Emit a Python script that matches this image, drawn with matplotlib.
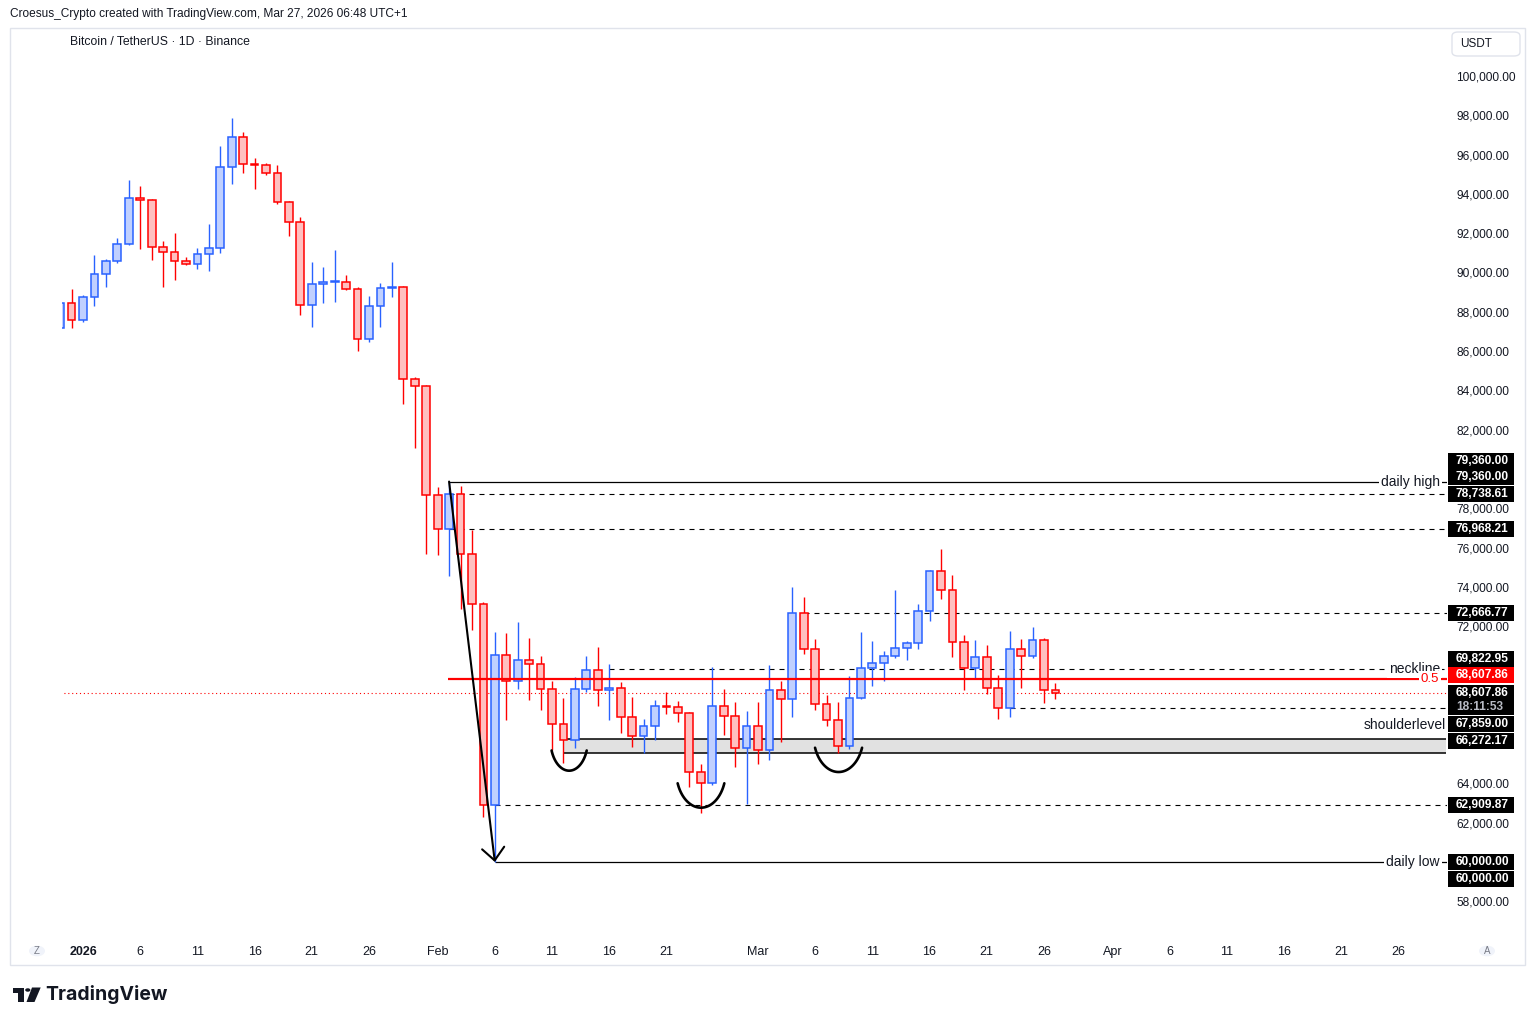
import numpy as np
import pandas as pd
import matplotlib
matplotlib.use("Agg")
import matplotlib.pyplot as plt
from matplotlib.patches import Rectangle, FancyBboxPatch, Circle, Polygon
from matplotlib.transforms import blended_transform_factory

plt.rcParams['font.family'] = ['Liberation Sans', 'DejaVu Sans']

# daily BTC/USDT candles, first one on Dec 30 2025
first_day = "2025-12-30"
opens = [87160, 88430, 87570, 88740, 89910, 90570, 91440, 93780, 93670, 91280,
         91030, 90570, 90420, 90930, 91230, 95350, 96880, 95510, 95460, 95050,
         93570, 92560, 88330, 89400, 89500, 89530, 89150, 86600, 88280, 89200,
         89250, 84570, 84210, 78660, 76968.21, 78738.61, 75690, 73120, 62909.87, 70520,
         69200, 70270, 70060, 68790, 67010, 66190, 68790, 69760, 68740, 68840,
         67400, 66400, 66910, 67920, 67880, 67570, 64580, 64000, 67920, 67420,
         65790, 66910, 65690, 68740, 68280, 72666.77, 70830, 68030, 67210, 65890,
         68330, 69860, 70110, 70470, 70880, 71130, 72760, 74790, 73830, 71180,
         69860, 70420, 68840, 67859, 70830, 70470, 71280, 68740]
highs = [88500, 89160, 88860, 90890, 90670, 91760, 94710, 94400, 93720, 91590,
         92010, 90790, 91250, 92470, 96440, 97860, 97150, 95830, 95570, 95470,
         93620, 92830, 90530, 90280, 91150, 89870, 89260, 88800, 89470, 90530,
         89300, 84680, 84250, 79100, 79360, 79140, 76880, 73250, 71690, 71640,
         72200, 71400, 70470, 69200, 68360, 69400, 70470, 70930, 70060, 69150,
         68380, 67260, 68250, 68650, 68190, 67620, 64990, 69920, 68800, 68140,
         67690, 68140, 70010, 69210, 74000, 73490, 71330, 68500, 68140, 69450,
         71700, 71250, 70740, 73840, 71250, 73130, 74860, 75910, 74610, 71540,
         71300, 71030, 69500, 71760, 71350, 71960, 71380, 69090]
lows = [87100, 87190, 87500, 88310, 89280, 90500, 91400, 91210, 90650, 89280,
        89630, 90370, 90190, 90090, 91010, 94520, 95080, 94270, 94980, 93500,
        91870, 87850, 87240, 88460, 88510, 89100, 86020, 86480, 87240, 88770,
        83320, 81080, 75690, 75640, 74570, 72880, 71820, 62310, 60000, 67240,
        68820, 68260, 67750, 65720, 65050, 65820, 68670, 67960, 67240, 66580,
        65840, 65560, 66220, 67520, 67140, 63830, 62480, 63900, 66480, 64850,
        62970, 65000, 65210, 66120, 67360, 70600, 67720, 66910, 65560, 65770,
        68300, 68940, 69200, 70370, 70280, 70830, 72250, 73370, 70450, 68770,
        69300, 68540, 67290, 67400, 68870, 70370, 68110, 68280]
closes = [88430, 87570, 88740, 89910, 90570, 91440, 93780, 93670, 91280, 91030,
          90570, 90420, 90930, 91230, 95350, 96880, 95510, 95460, 95050, 93570,
          92560, 88330, 89400, 89500, 89530, 89150, 86600, 88280, 89200, 89250,
          84570, 84210, 78660, 76968.21, 78738.61, 75690, 73120, 62909.87, 70520, 69200,
          70270, 70060, 68790, 67010, 66190, 68790, 69760, 68740, 68840, 67400,
          66400, 66910, 67920, 67880, 67570, 64580, 64000, 67920, 67420, 65790,
          66910, 65690, 68740, 68280, 72666.77, 70830, 68030, 67210, 65890, 68330,
          69860, 70110, 70470, 70880, 71130, 72760, 74790, 73830, 71180, 69860,
          70420, 68840, 67859, 70830, 70470, 71280, 68740, 68607.86]

# drawn levels
daily_high = 79360
daily_low = 60000
dashed_levels = [78738.61, 76968.21, 72666.77, 62909.87]
dashed_from = ["2026-02-02", "2026-02-02", "2026-03-05", "2026-02-06"]
neckline = 69822.95
neck_from = "2026-02-16"
fib_half = 69310
last_price = 68607.86
recent_low = 67859
shoulder_top, shoulder_bottom = 66272.17, 65550
shoulder_from = "2026-02-12"

# rounded bottoms (left day, right day, top price, bottom price)
arc_x0 = [40.96, 51.98, 63.99]
arc_x1 = [44.03, 56.06, 68.10]
arc_top = [65675, 64006, 65816]
arc_bottom = [64647, 62765, 64580]

tick_dates = ["2026-01-01", "2026-01-06", "2026-01-11", "2026-01-16", "2026-01-21", "2026-01-26",
              "2026-02-01", "2026-02-06", "2026-02-11", "2026-02-16", "2026-02-21",
              "2026-03-01", "2026-03-06", "2026-03-11", "2026-03-16", "2026-03-21", "2026-03-26",
              "2026-04-01", "2026-04-06", "2026-04-11", "2026-04-16", "2026-04-21", "2026-04-26"]
tick_labels = ["2026", "6", "11", "16", "21", "26", "Feb", "6", "11", "16", "21",
               "Mar", "6", "11", "16", "21", "26", "Apr", "6", "11", "16", "21", "26"]
# price ticks that sit under a price tag in the screenshot
hidden_ticks = [80000, 70000, 68000, 66000, 60000]

BLUE, BLUE_FILL = "#2962ff", "#c0d0ff"
RED, RED_FILL = "#ff0000", "#ffc0c0"
TXT = "#131722"

W, H = 1535, 1025
fig = plt.figure(figsize=(W / 100, H / 100), dpi=100)
fig.patch.set_facecolor("white")


def fx(px):
    return px / W


def fy(py):
    return 1 - py / H


T0 = pd.Timestamp("2026-01-01")


def day(s):
    return (pd.Timestamp(s) - T0).days


AX_L, AX_R = 62, 1447
ax = fig.add_axes([fx(AX_L), fy(938), fx(AX_R) - fx(AX_L), fy(28) - fy(938)])
ax.set_xlim((AX_L - 83) / 11.44, (AX_R - 83) / 11.44)
ax.set_ylim(100000 - (938 - 76) / 19.65 * 1000, 100000 + (76 - 28) / 19.65 * 1000)
right = ax.get_xlim()[1]
for s in ax.spines.values():
    s.set_visible(False)

# candles
x = (pd.date_range(first_day, periods=len(opens)) - T0).days.values
o, h, l, c = map(np.array, (opens, highs, lows, closes))
up = c >= o
edge = np.where(up, BLUE, RED)
fill = np.where(up, BLUE_FILL, RED_FILL)
ax.vlines(x, l, h, colors=edge, lw=1.0, zorder=2)
ax.bar(x, np.maximum(np.abs(c - o), 60), bottom=np.minimum(o, c), width=0.68,
       color=fill, edgecolor=edge, linewidth=1.1, zorder=3)

# levels
dash = (0, (4.5, 4.5))
ax.hlines(daily_high, day("2026-02-02"), right, color="black", lw=0.9, zorder=1)
ax.hlines(daily_low, day("2026-02-06"), right, color="black", lw=0.9, zorder=1)
for lvl, start in zip(dashed_levels, dashed_from):
    ax.hlines(lvl, day(start), right, color="black", lw=0.8, linestyles=[dash], zorder=1)
ax.hlines(neckline, day(neck_from), right, color="black", lw=0.8, linestyles=[dash], zorder=1)
ax.hlines(recent_low, day("2026-03-23"), right, color="black", lw=0.8, linestyles=[dash], zorder=1)
ax.hlines(fib_half, day("2026-02-02") - 0.1, right, color=RED, lw=1.6, zorder=4)
ax.hlines(last_price, x[0], right, color=RED, lw=0.8, linestyles=[(0, (1, 2.5))], zorder=1)

sx = day(shoulder_from)
ax.add_patch(Rectangle((sx, shoulder_bottom), right - sx - 0.1, shoulder_top - shoulder_bottom,
                       facecolor="#e1e1e1", edgecolor="none", zorder=0.5))
ax.hlines([shoulder_top, shoulder_bottom], sx, right - 0.1, color="black", lw=1.1, zorder=1)

# arrow from the high to the low
ax.annotate("", xy=(day("2026-02-06"), daily_low), xytext=(day("2026-02-02"), daily_high),
            arrowprops=dict(arrowstyle="->,head_length=0.9,head_width=0.8", color="black",
                            lw=1.5, shrinkA=0, shrinkB=0), zorder=6)

# rounded bottoms
span = np.radians(20)
for x0, x1, yt, yb in zip(arc_x0, arc_x1, arc_top, arc_bottom):
    a = (x1 - x0) / 2 / np.cos(span)
    b = (yt - yb) / (1 - np.sin(span))
    t = np.linspace(np.pi + span, 2 * np.pi - span, 60)
    ax.plot((x0 + x1) / 2 + a * np.cos(t), yb + b + b * np.sin(t), color="black",
            lw=1.9, solid_capstyle="round", zorder=6)

# line labels
tr = blended_transform_factory(ax.transAxes, ax.transData)


def ax_x(px):
    return (px - AX_L) / (AX_R - AX_L)


box = dict(facecolor="white", edgecolor="none", pad=1.5)
ax.text(ax_x(1440), daily_high, "daily high", transform=tr, ha="right", va="center",
        fontsize=10, color=TXT, bbox=box, zorder=7)
ax.text(ax_x(1440), daily_low, "daily low", transform=tr, ha="right", va="center",
        fontsize=10, color=TXT, bbox=box, zorder=7)
ax.text(ax_x(1440), neckline, "neckline", transform=tr, ha="right", va="center",
        fontsize=10, color=TXT, bbox=box, zorder=7)
ax.text(ax_x(1439), fib_half, "0.5", transform=tr, ha="right", va="center",
        fontsize=9.5, color=RED, bbox=box, zorder=7)
ax.text(ax_x(1446), shoulder_top + 320, "shoulderlevel", transform=tr, ha="right",
        va="bottom", fontsize=10, color=TXT, zorder=7)

# axes ticks
yt = np.arange(58000, 100001, 2000)
ax.yaxis.tick_right()
ax.set_yticks(yt)
ax.set_yticklabels(["" if v in hidden_ticks else f"{v:,.2f}" for v in yt])
ax.tick_params(axis="y", length=0, pad=6.5, labelsize=8.6, labelcolor=TXT)
ax.set_xticks([day(d) for d in tick_dates])
ax.set_xticklabels(tick_labels)
ax.tick_params(axis="x", length=0, pad=5.5, labelsize=9, labelcolor=TXT)
ax.get_xticklabels()[0].set_fontweight("bold")


# price tags on the right axis
def py(price):
    return H - ax.transData.transform((0, price))[1]


def tag(text, price, dy=0, bg="black", sub=None):
    yc = py(price) - dy
    hh = 30 if sub else 16
    top = yc - 8
    fig.add_artist(Rectangle((fx(1448), fy(top + hh)), fx(1514) - fx(1448), hh / H,
                             transform=fig.transFigure, facecolor=bg, edgecolor="none", zorder=5))
    fig.text(fx(1456), fy(yc), text, ha="left", va="center", color="white", fontsize=8.6,
             fontweight="bold", zorder=6)
    if sub:
        fig.text(fx(1456), fy(yc + 14), sub, ha="left", va="center", color="#b8bbc4",
                 fontsize=8.6, fontweight="bold", zorder=6)


tag("79,360.00", daily_high, 21)
tag("79,360.00", daily_high, 4.6)
tag("78,738.61", dashed_levels[0])
tag("76,968.21", dashed_levels[1])
tag("72,666.77", dashed_levels[2])
tag("69,822.95", neckline, 10)
tag("68,607.86", last_price, 17.4, bg="#ff0000")
tag("68,607.86", last_price, 0, sub="18:11:53")
tag("67,859.00", recent_low, -16.4)
tag("66,272.17", shoulder_top, -2.2)
tag("62,909.87", dashed_levels[3])
tag("60,000.00", daily_low)
tag("60,000.00", daily_low, -17)

# frame and decorations
fig.add_artist(Rectangle((fx(10), fy(965)), fx(1525) - fx(10), (965 - 28) / H,
                         transform=fig.transFigure, fill=False, edgecolor="#e0e3eb", lw=1, zorder=10))
fig.text(fx(10), fy(14), "Croesus_Crypto created with TradingView.com, Mar 27, 2026 06:48 UTC+1",
         ha="left", va="center", fontsize=8.6, color=TXT)
fig.text(fx(70), fy(42), "Bitcoin / TetherUS \u00b7 1D \u00b7 Binance", ha="left", va="center",
         fontsize=8.8, color=TXT)
fig.add_artist(FancyBboxPatch((fx(1452), fy(56)), fx(1520) - fx(1452), 24 / H,
                              boxstyle="round,pad=0,rounding_size=0.004", transform=fig.transFigure,
                              facecolor="white", edgecolor="#e0e3eb", lw=1, zorder=5))
fig.text(fx(1460), fy(44), "USDT", ha="left", va="center", fontsize=8.5, color=TXT, zorder=6)
for cxp, letter in [(37, "Z"), (1487, "A")]:
    fig.add_artist(Circle((fx(cxp), fy(951)), 8 / W, transform=fig.transFigure,
                          facecolor="#f0f3fa", edgecolor="none", zorder=5))
    fig.text(fx(cxp), fy(951), letter, ha="center", va="center", fontsize=7,
             color="#787b86", zorder=6)

# TradingView logo
logo = "#131722"
fig.add_artist(Polygon([(fx(12.5), fy(987.5)), (fx(24), fy(987.5)), (fx(24), fy(1002)), (fx(18.3), fy(1002)),
                        (fx(18.3), fy(993.3)), (fx(12.5), fy(993.3))], closed=True,
                       transform=fig.transFigure, facecolor=logo, edgecolor="none"))
fig.add_artist(Circle((fx(27.8), fy(990)), 2.6 / W, transform=fig.transFigure,
                      facecolor=logo, edgecolor="none"))
fig.add_artist(Polygon([(fx(32), fy(987.5)), (fx(40.7), fy(987.5)), (fx(34.5), fy(1002)), (fx(26.5), fy(1002))],
                       closed=True, transform=fig.transFigure, facecolor=logo, edgecolor="none"))
fig.text(fx(45), fy(995), "TradingView", ha="left", va="center", fontsize=14,
         fontweight="bold", color=logo, family=["Inter", "DejaVu Sans"])

fig.savefig("out.png", dpi=100, facecolor="white")
